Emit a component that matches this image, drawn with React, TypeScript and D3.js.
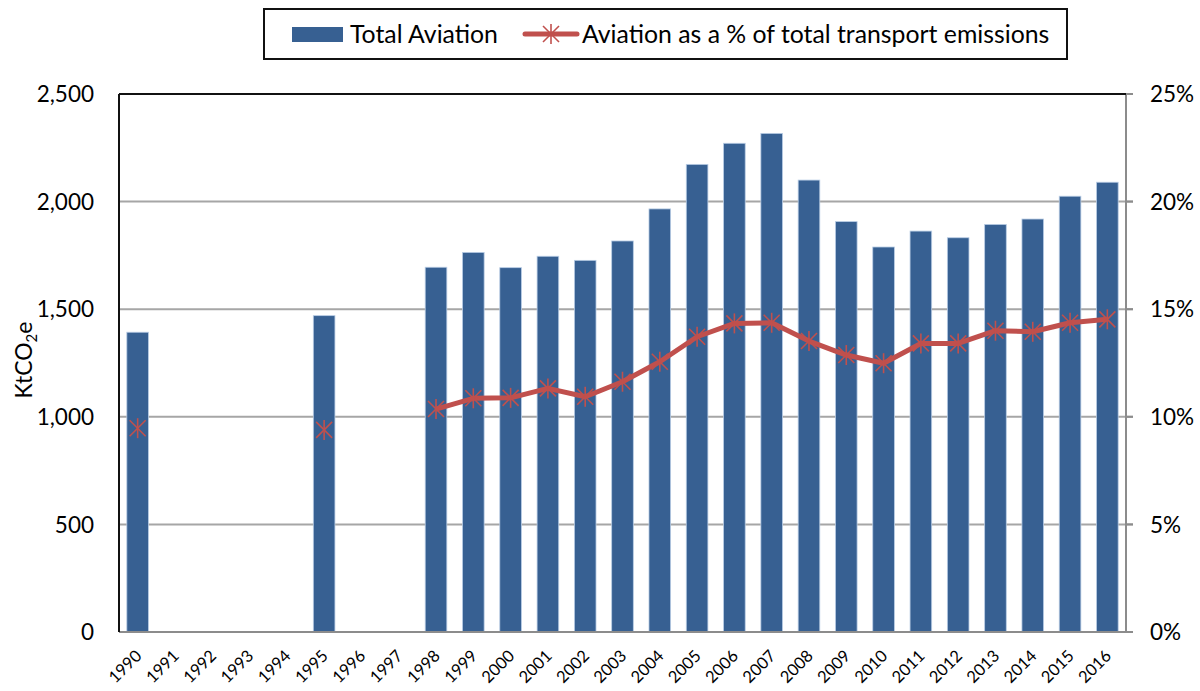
import React from "react";
import * as d3 from "d3";

const width = 1200,
  height = 691;

const margin = { left: 119, right: 1126, top: 94, bottom: 632 };

const font = "Lato, 'Liberation Sans', sans-serif";
const barColor = "#376092";
const lineColor = "#C0504D";

// categories (x axis tick labels)
const years = [
  "1990", "1991", "1992", "1993", "1994", "1995", "1996", "1997", "1998",
  "1999", "2000", "2001", "2002", "2003", "2004", "2005", "2006", "2007",
  "2008", "2009", "2010", "2011", "2012", "2013", "2014", "2015", "2016"
];

// Total Aviation, KtCO2e
const totalAviation = [
  1393, null, null, null, null, 1470, null, null, 1695,
  1764, 1693, 1746, 1727, 1817, 1966, 2173, 2271, 2317,
  2100, 1907, 1789, 1863, 1832, 1894, 1919, 2025, 2090
];

// Aviation as a % of total transport emissions
const aviationShare = [
  9.47, null, null, null, null, 9.39, null, null, 10.36,
  10.86, 10.88, 11.32, 10.93, 11.63, 12.56, 13.72, 14.34, 14.37,
  13.52, 12.87, 12.49, 13.41, 13.41, 14.0, 13.95, 14.37, 14.53
];

const leftTicks = [0, 500, 1000, 1500, 2000, 2500];
const rightTicks = [0, 5, 10, 15, 20, 25];

const seriesNames = ["Total Aviation", "Aviation as a % of total transport emissions"];

function Star({ x, y, r = 10 }) {
  const d = r * 0.8;
  return (
    <g stroke={lineColor} strokeWidth={1.6} fill="none">
      <line x1={x - d} y1={y - d} x2={x + d} y2={y + d} />
      <line x1={x - d} y1={y + d} x2={x + d} y2={y - d} />
      <line x1={x} y1={y - r} x2={x} y2={y + r} />
    </g>
  );
}

export default function App() {
  const x = d3
    .scaleBand()
    .domain(years)
    .range([margin.left, margin.right])
    .paddingInner(0.42)
    .paddingOuter(0.21);

  const yLeft = d3.scaleLinear().domain([0, 2500]).range([margin.bottom, margin.top]);
  const yRight = d3.scaleLinear().domain([0, 25]).range([margin.bottom, margin.top]);

  const pts = years.map((yr, i) => ({ yr, v: aviationShare[i] }));
  const line = d3
    .line()
    .defined(d => d.v != null)
    .x(d => x(d.yr) + x.bandwidth() / 2)
    .y(d => yRight(d.v));

  return (
    <svg
      width={width}
      height={height}
      style={{ position: "absolute", left: 0, top: 0, background: "#fff" }}
      fontFamily={font}
    >
      {/* gridlines */}
      {leftTicks.slice(1, -1).map(t => (
        <line
          key={"g" + t}
          x1={margin.left}
          x2={margin.right + 7}
          y1={yLeft(t)}
          y2={yLeft(t)}
          stroke="#a6a6a6"
          strokeWidth={2}
        />
      ))}

      {/* bars */}
      {years.map((yr, i) =>
        totalAviation[i] == null ? null : (
          <rect
            key={"b" + yr}
            x={x(yr)}
            y={yLeft(totalAviation[i])}
            width={x.bandwidth()}
            height={yLeft(0) - yLeft(totalAviation[i])}
            fill={barColor}
            stroke="#b9cde5"
            strokeWidth={0.8}
          />
        )
      )}

      {/* axes frame */}
      <line x1={margin.left} x2={margin.right + 7} y1={margin.bottom} y2={margin.bottom} stroke="#8c8c8c" strokeWidth={2} />
      <line x1={margin.right} x2={margin.right} y1={margin.top} y2={margin.bottom} stroke="#8c8c8c" strokeWidth={2} />
      {rightTicks.map(t => (
        <line key={"rt" + t} x1={margin.right} x2={margin.right + 7} y1={yRight(t)} y2={yRight(t)} stroke="#8c8c8c" strokeWidth={2} />
      ))}
      <line x1={margin.left} x2={margin.right} y1={margin.top} y2={margin.top} stroke="#111" strokeWidth={2} />
      <line x1={margin.left} x2={margin.left} y1={margin.top} y2={margin.bottom} stroke="#111" strokeWidth={2} />

      {/* line series */}
      <path d={line(pts)} fill="none" stroke={lineColor} strokeWidth={5} strokeLinejoin="round" />
      {pts.map(d =>
        d.v == null ? null : (
          <Star key={"s" + d.yr} x={x(d.yr) + x.bandwidth() / 2} y={yRight(d.v)} />
        )
      )}

      {/* left tick labels */}
      {leftTicks.map(t => (
        <text key={"l" + t} x={94} y={yLeft(t)} dy="0.36em" textAnchor="end" fontSize={22.5} fill="#000">
          {d3.format(",")(t)}
        </text>
      ))}

      {/* right tick labels */}
      {rightTicks.map(t => (
        <text key={"r" + t} x={1150} y={yRight(t)} dy="0.36em" textAnchor="start" fontSize={22.5} fill="#000">
          {t + "%"}
        </text>
      ))}

      {/* x tick labels */}
      {years.map(yr => {
        const cx = x(yr) + x.bandwidth() / 2;
        return (
          <text
            key={"x" + yr}
            transform={`translate(${cx + 5},${657}) rotate(-45)`}
            textAnchor="end"
            fontSize={16.5}
            fill="#000"
          >
            {yr}
          </text>
        );
      })}

      {/* y axis title */}
      <text transform="translate(32,360) rotate(-90)" textAnchor="middle" fontSize={23} fill="#000">
        KtCO<tspan fontSize={15} dy="5">2</tspan>
        <tspan dy="-5">e</tspan>
      </text>

      {/* legend */}
      <rect x={264} y={9} width={803} height={50} fill="#fff" stroke="#111" strokeWidth={2} />
      <rect x={292} y={27} width={51} height={15} fill={barColor} />
      <text x={350} y={34} dy="0.36em" fontSize={24.8} fill="#000">
        {seriesNames[0]}
      </text>
      <line x1={525} x2={577} y1={34} y2={34} stroke={lineColor} strokeWidth={5} strokeLinecap="round" />
      <Star x={551} y={34} />
      <text x={582} y={34} dy="0.36em" fontSize={24.8} fill="#000">
        {seriesNames[1]}
      </text>
    </svg>
  );
}
